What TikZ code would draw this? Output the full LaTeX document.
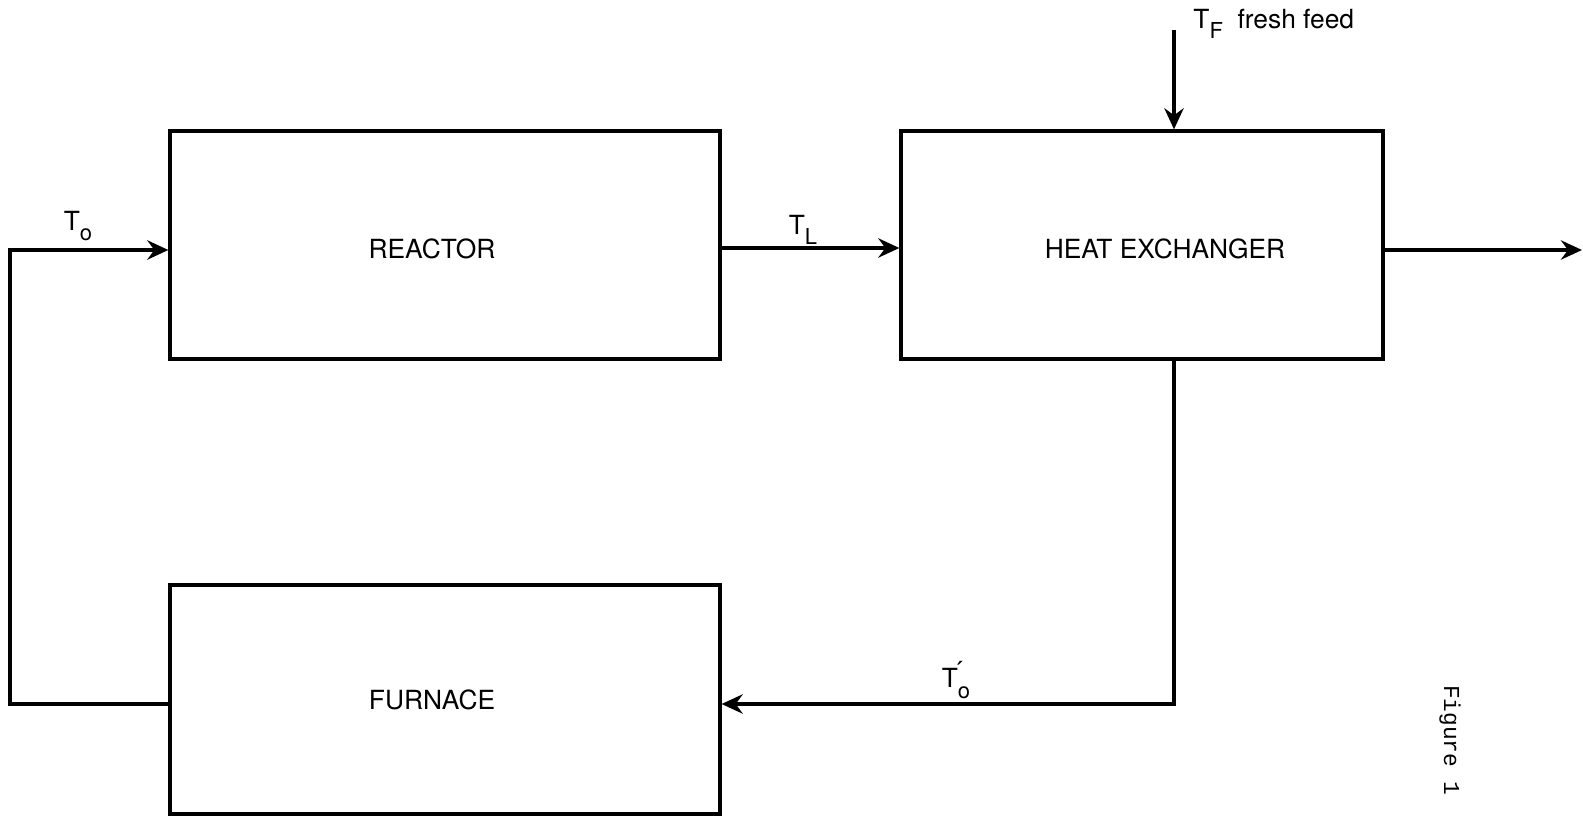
\documentclass[tikz,border=0pt]{standalone}
\usepackage{amsmath}
\usepackage{fontspec}
\setmainfont{TeX Gyre Heros}
\newfontfamily\typewriter{Liberation Mono}
\usetikzlibrary{positioning, calc, arrows.meta}
\newcommand{\lowsub}[1]{\raisebox{-6pt}{\fontsize{12.5}{12}\selectfont #1}}

\begin{document}
\begin{tikzpicture}[x=0.02cm, y=-0.02cm, line width=1.9pt,
    block/.style={draw, line width=1.9pt, minimum width=1.1cm, minimum height=4.56cm, inner sep=0pt},
    tag/.style={font=\fontsize{15}{18}\selectfont, inner sep=1pt},
    flow/.style={-{Stealth[length=12pt, width=11pt, inset=4pt]}}]
    \useasboundingbox (0,0) rectangle (1583,817);

    % Blocks
    \node[block, minimum width=11cm] (reactor) at (445,245) {};
    \node[block, minimum width=9.64cm] (hx) at (1142,245) {};
    \node[block, minimum width=11cm, minimum height=4.58cm] (furnace) at (445,699.5) {};
    \node[tag] (reactorname) at (432,249) {REACTOR};
    \node[tag] (hxname) at (1165,249) {HEAT EXCHANGER};
    \node[tag] (furnacename) at (432,700) {FURNACE};

    % Corners of the loop
    \coordinate (top) at (10,250);
    \coordinate (ret) at (10,704);
    \coordinate (feed) at (1174,30);
    \coordinate (out) at (1582,250);
    \coordinate (mid) at (0,248);

    % Connections
    \draw[flow] (furnace.west |- ret) -- (ret) -- (top) -- (reactor.west |- top);
    \draw[flow] (reactor.east |- mid) -- (hx.west |- mid);
    \draw[flow] (feed) -- (feed |- hx.north);
    \draw[flow] (hx.east |- out) -- (out);
    \draw[flow] (feed |- hx.south) -- (feed |- ret) -- (furnace.east |- ret);

    % Stream labels
    \node[tag] (to) at (78,226) {T\lowsub{o}};
    \node[tag] (tl) at (803,230) {T\lowsub{L}};
    \node[tag, anchor=west] (tf) at (1190,24) {T\lowsub{F}\ \ fresh feed};
    \node[tag] (toprime) at (956,680) {T\rlap{\raisebox{4pt}{\'{}}}\lowsub{o}};

    % Caption
    \node[rotate=-90, font=\typewriter\fontsize{13}{15}\selectfont] (caption) at (1450,740) {Figure 1};
\end{tikzpicture}
\end{document}
